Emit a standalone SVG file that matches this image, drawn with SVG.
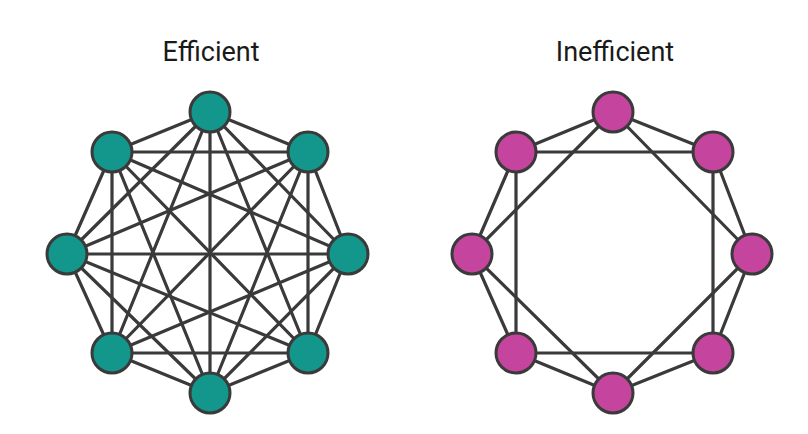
<svg xmlns="http://www.w3.org/2000/svg" width="808" height="434" viewBox="0 0 808 434">
<style>
.title{font-family:Roboto,"Liberation Sans",sans-serif;font-size:27px;fill:#1a1a1a;text-anchor:middle}
.edges line{stroke:#3a3a3a;stroke-width:3.2;stroke-linecap:round}
.n circle{stroke:#3a3a3a;stroke-width:3}
.teal circle{fill:#13968b}
.mag circle{fill:#c4449e}
</style>
<rect width="808" height="434" fill="#ffffff"/>
<text class="title" x="211" y="61">Efficient</text>
<text class="title" x="615" y="61">Inefficient</text>
<g id="connectors-efficient" class="edges">
<line x1="210" y1="112" x2="308" y2="152"/><line x1="210" y1="112" x2="348" y2="254"/><line x1="210" y1="112" x2="308" y2="353"/><line x1="210" y1="112" x2="210" y2="393"/><line x1="210" y1="112" x2="112" y2="353"/><line x1="210" y1="112" x2="67" y2="254"/><line x1="210" y1="112" x2="112" y2="152"/>
<line x1="308" y1="152" x2="348" y2="254"/><line x1="308" y1="152" x2="308" y2="353"/><line x1="308" y1="152" x2="210" y2="393"/><line x1="308" y1="152" x2="112" y2="353"/><line x1="308" y1="152" x2="67" y2="254"/><line x1="308" y1="152" x2="112" y2="152"/>
<line x1="348" y1="254" x2="308" y2="353"/><line x1="348" y1="254" x2="210" y2="393"/><line x1="348" y1="254" x2="112" y2="353"/><line x1="348" y1="254" x2="67" y2="254"/><line x1="348" y1="254" x2="112" y2="152"/>
<line x1="308" y1="353" x2="210" y2="393"/><line x1="308" y1="353" x2="112" y2="353"/><line x1="308" y1="353" x2="67" y2="254"/><line x1="308" y1="353" x2="112" y2="152"/>
<line x1="210" y1="393" x2="112" y2="353"/><line x1="210" y1="393" x2="67" y2="254"/><line x1="210" y1="393" x2="112" y2="152"/>
<line x1="112" y1="353" x2="67" y2="254"/><line x1="112" y1="353" x2="112" y2="152"/>
<line x1="67" y1="254" x2="112" y2="152"/>
</g>
<g id="connectors-inefficient" class="edges">
<line x1="613" y1="112" x2="713" y2="152"/><line x1="713" y1="152" x2="752" y2="254"/><line x1="752" y1="254" x2="713" y2="353"/><line x1="713" y1="353" x2="613" y2="393"/><line x1="613" y1="393" x2="516" y2="353"/><line x1="516" y1="353" x2="472" y2="254"/><line x1="472" y1="254" x2="516" y2="152"/><line x1="516" y1="152" x2="613" y2="112"/>
<line x1="613" y1="112" x2="752" y2="254"/><line x1="713" y1="152" x2="713" y2="353"/><line x1="752" y1="254" x2="613" y2="393"/><line x1="713" y1="353" x2="516" y2="353"/><line x1="613" y1="393" x2="472" y2="254"/><line x1="516" y1="353" x2="516" y2="152"/><line x1="472" y1="254" x2="613" y2="112"/><line x1="516" y1="152" x2="713" y2="152"/>
</g>
<g id="efficient-nodes" class="n teal">
<g id="e0"><circle cx="210" cy="112" r="20"/></g>
<g id="e1"><circle cx="308" cy="152" r="20"/></g>
<g id="e2"><circle cx="348" cy="254" r="20"/></g>
<g id="e3"><circle cx="308" cy="353" r="20"/></g>
<g id="e4"><circle cx="210" cy="393" r="20"/></g>
<g id="e5"><circle cx="112" cy="353" r="20"/></g>
<g id="e6"><circle cx="67" cy="254" r="20"/></g>
<g id="e7"><circle cx="112" cy="152" r="20"/></g>
</g>
<g id="inefficient-nodes" class="n mag">
<g id="i0"><circle cx="613" cy="112" r="20"/></g>
<g id="i1"><circle cx="713" cy="152" r="20"/></g>
<g id="i2"><circle cx="752" cy="254" r="20"/></g>
<g id="i3"><circle cx="713" cy="353" r="20"/></g>
<g id="i4"><circle cx="613" cy="393" r="20"/></g>
<g id="i5"><circle cx="516" cy="353" r="20"/></g>
<g id="i6"><circle cx="472" cy="254" r="20"/></g>
<g id="i7"><circle cx="516" cy="152" r="20"/></g>
</g>
</svg>
